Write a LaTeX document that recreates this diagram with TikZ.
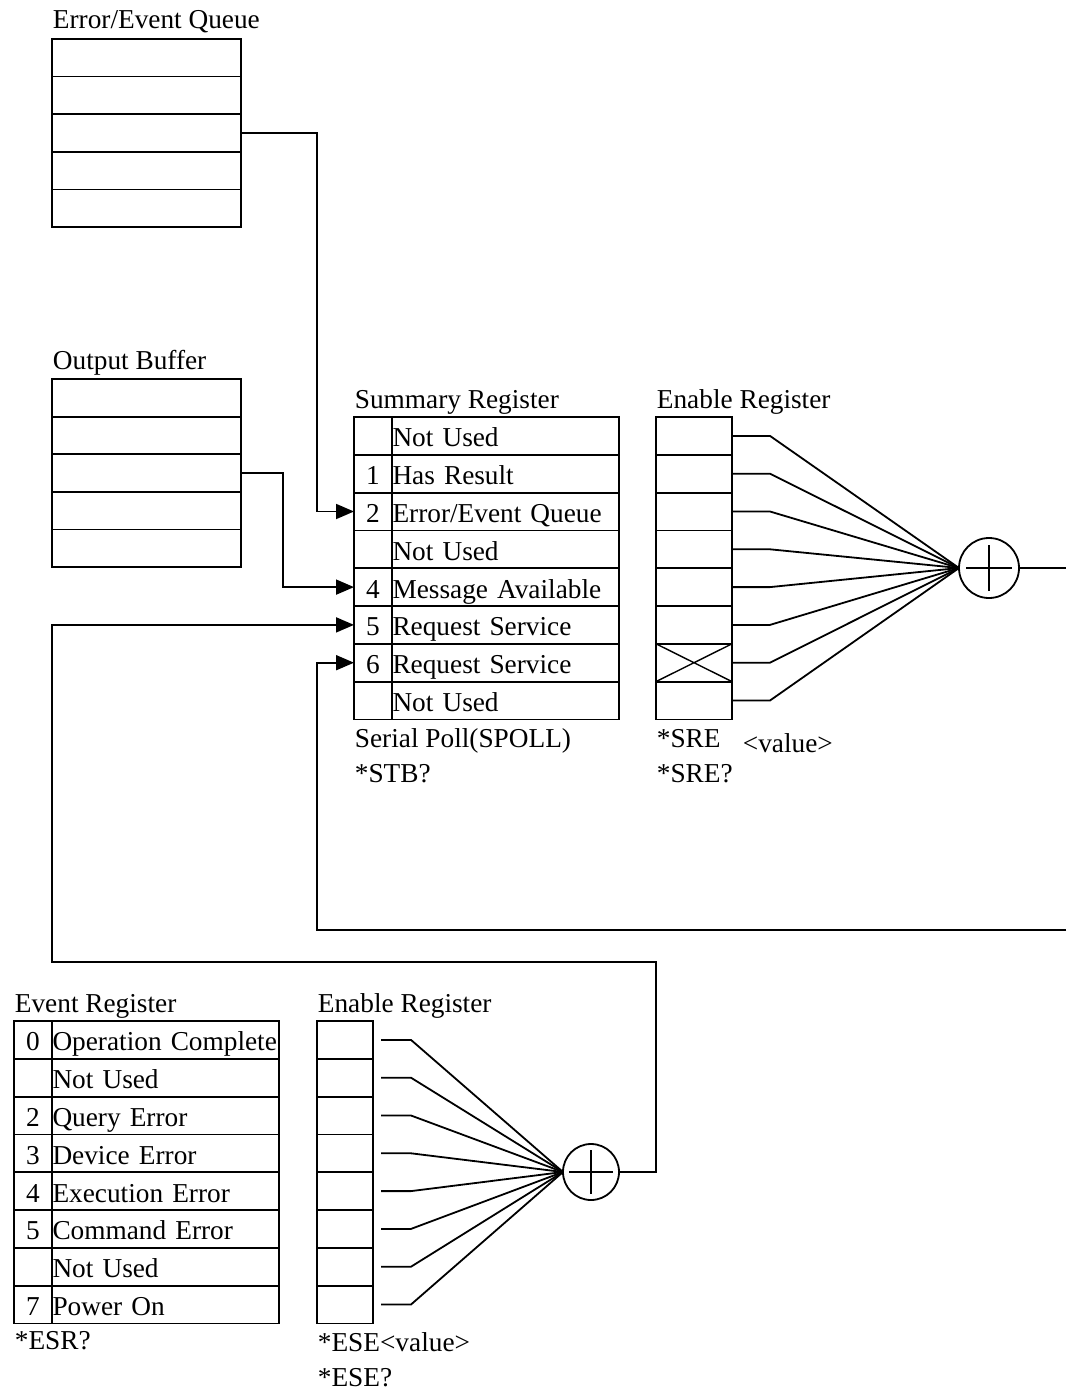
\documentclass[tikz,border=0pt]{standalone}
\usepackage{fontspec}
\setmainfont{Liberation Serif}
\usetikzlibrary{positioning,arrows.meta}
\newcommand{\regfont}{\fontsize{27.3}{33}\selectfont}

\begin{document}
\begin{tikzpicture}[
  x=1pt, y=-1pt, >={Triangle[length=18pt,width=15pt]},
  every path/.style={line width=1.8pt},
  reg/.style={draw, line width=1.8pt, inner sep=0pt, outer sep=0pt, minimum height=37.8pt,
    anchor=north west, font=\regfont, text height=24pt, text depth=2pt},
  numcell/.style={reg, minimum width=38pt},
  txtcell/.style={reg, text width=226pt, inner xsep=0.5pt, align=left},
  qcell/.style={reg, minimum width=189pt, minimum height=37.6pt},
  encell/.style={reg, minimum width=76pt},
  eecell/.style={reg, minimum width=56pt},
  lbl/.style={anchor=base west, inner sep=0pt, font=\regfont},
  orgate/.style={draw, circle, line width=1.8pt, inner sep=0pt, outer sep=0pt},
]
  \useasboundingbox (0,0) rectangle (1066,1394);

  % queues
  \node[qcell] (eq1) at (52,39) {};
  \foreach \i [count=\j from 2] in {1,...,4}
    \node[qcell, below=0pt of eq\i] (eq\j) {};
  \node[lbl] at ([yshift=10pt]eq1.north west) {Error/Event Queue};

  \node[qcell] (ob1) at (52,379) {};
  \foreach \i [count=\j from 2] in {1,...,4}
    \node[qcell, below=0pt of ob\i] (ob\j) {};
  \node[lbl] at ([yshift=10pt]ob1.north west) {Output Buffer};

  % summary register
  \node[numcell] (sn0) at (354,417) {};
  \node[txtcell, right=0pt of sn0] (st0) {Not Used};
  \node[numcell, below=0pt of sn0] (sn1) {1};
  \node[txtcell, right=0pt of sn1] (st1) {Has Result};
  \node[numcell, below=0pt of sn1] (sn2) {2};
  \node[txtcell, right=0pt of sn2] (st2) {Error/Event Queue};
  \node[numcell, below=0pt of sn2] (sn3) {};
  \node[txtcell, right=0pt of sn3] (st3) {Not Used};
  \node[numcell, below=0pt of sn3] (sn4) {4};
  \node[txtcell, right=0pt of sn4] (st4) {Message Available};
  \node[numcell, below=0pt of sn4] (sn5) {5};
  \node[txtcell, right=0pt of sn5] (st5) {Request Service};
  \node[numcell, below=0pt of sn5] (sn6) {6};
  \node[txtcell, right=0pt of sn6] (st6) {Request Service};
  \node[numcell, below=0pt of sn6] (sn7) {};
  \node[txtcell, right=0pt of sn7] (st7) {Not Used};
  \node[lbl] at ([yshift=9pt]sn0.north west) {Summary Register};
  \node[lbl] (spoll) at ([yshift=-28pt]sn7.south west) {Serial Poll(SPOLL)};
  \node[lbl] at ([yshift=-35pt]spoll.base west) {*STB?};

  % service request enable
  \node[encell] (en0) at (656,417) {};
  \foreach \i [count=\j from 1] in {0,...,6}
    \node[encell, below=0pt of en\i] (en\j) {};
  \draw[line width=1.4pt] (en6.north west) -- (en6.south east) (en6.south west) -- (en6.north east);
  \node[lbl] at ([yshift=9pt]en0.north west) {Enable Register};
  \node[lbl] (sre) at ([yshift=-28pt]en7.south west) {*SRE};
  \node[lbl] at ([xshift=86pt,yshift=-33pt]en7.south west) {<value>};
  \node[lbl] at ([yshift=-35pt]sre.base west) {*SRE?};

  \node[orgate, minimum size=60pt] (or1) at (989,568) {};
  \draw ([xshift=-23pt]or1.center) -- ([xshift=23pt]or1.center)
        ([yshift=-23pt]or1.center) -- ([yshift=23pt]or1.center);
  \foreach \i in {0,...,7}
    \draw (en\i.east) -- ++(38,0) -- (or1.west);

  % event register
  \node[numcell] (xn0) at (14,1021) {0};
  \node[txtcell, right=0pt of xn0] (xt0) {Operation Complete};
  \node[numcell, below=0pt of xn0] (xn1) {};
  \node[txtcell, right=0pt of xn1] (xt1) {Not Used};
  \node[numcell, below=0pt of xn1] (xn2) {2};
  \node[txtcell, right=0pt of xn2] (xt2) {Query Error};
  \node[numcell, below=0pt of xn2] (xn3) {3};
  \node[txtcell, right=0pt of xn3] (xt3) {Device Error};
  \node[numcell, below=0pt of xn3] (xn4) {4};
  \node[txtcell, right=0pt of xn4] (xt4) {Execution Error};
  \node[numcell, below=0pt of xn4] (xn5) {5};
  \node[txtcell, right=0pt of xn5] (xt5) {Command Error};
  \node[numcell, below=0pt of xn5] (xn6) {};
  \node[txtcell, right=0pt of xn6] (xt6) {Not Used};
  \node[numcell, below=0pt of xn6] (xn7) {7};
  \node[txtcell, right=0pt of xn7] (xt7) {Power On};
  \node[lbl] at ([yshift=9pt]xn0.north west) {Event Register};
  \node[lbl] at ([yshift=-26pt]xn7.south west) {*ESR?};

  % event enable
  \node[eecell] (ee0) at (317,1021) {};
  \foreach \i [count=\j from 1] in {0,...,6}
    \node[eecell, below=0pt of ee\i] (ee\j) {};
  \node[lbl] at ([yshift=9pt]ee0.north west) {Enable Register};
  \node[lbl] (ese) at ([yshift=-28pt]ee7.south west) {*ESE<value>};
  \node[lbl] at ([yshift=-35pt]ese.base west) {*ESE?};

  \node[orgate, minimum size=56pt] (or2) at (591,1172) {};
  \draw ([xshift=-22pt]or2.center) -- ([xshift=22pt]or2.center)
        ([yshift=-22pt]or2.center) -- ([yshift=22pt]or2.center);
  \foreach \i in {0,...,7}
    \draw ([xshift=8pt]ee\i.east) -- ++(30,0) -- (or2.west);

  % connections
  \coordinate (rtop) at (1066,568);
  \coordinate (rbot) at (1066,930);
  \draw[->] (eq3.east) -- ++(76,0) |- (sn2.west);
  \draw[->] (ob3.east) -- ++(42,0) |- (sn4.west);
  \draw (or1.east) -- (rtop);
  \draw[->] (rbot) -- ++(-749,0) |- (sn6.west);
  \draw[->] (or2.east) -- ++(37,0) -- ++(0,-210) -- ++(-604,0) |- (sn5.west);
\end{tikzpicture}
\end{document}
